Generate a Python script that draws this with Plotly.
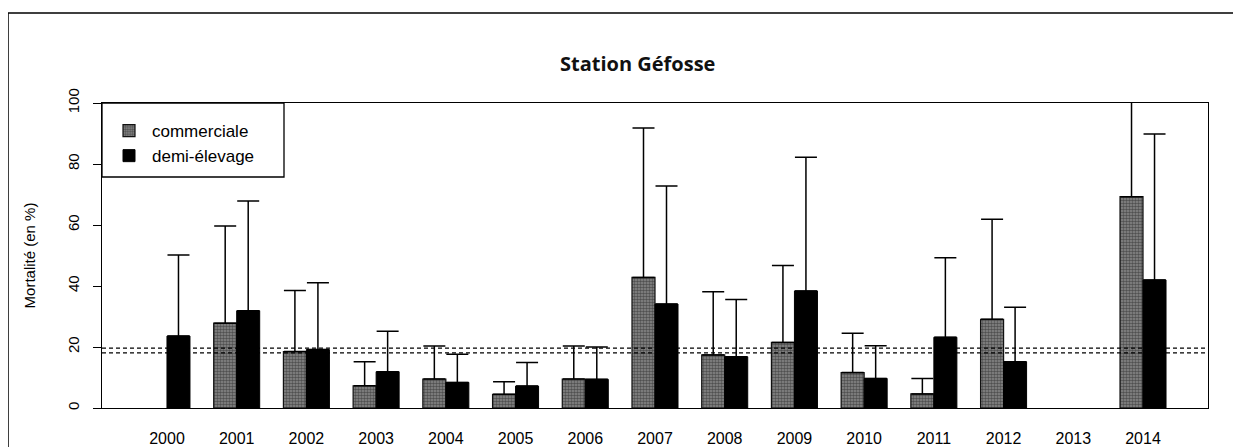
import plotly.graph_objects as go

years = [2000, 2001, 2002, 2003, 2004, 2005, 2006, 2007, 2008, 2009, 2010, 2011, 2012, 2013, 2014]
commerciale = [None, 27.8, 18.5, 7.3, 9.5, 4.5, 9.5, 42.8, 17.4, 21.5, 11.6, 4.6, 29.1, None, 69.3]
commerciale_sup = [None, 59.7, 38.5, 15.2, 20.3, 8.6, 20.3, 91.8, 38.1, 46.7, 24.5, 9.7, 61.9, None, 110.0]
demi_elevage = [23.6, 31.9, 19.2, 11.9, 8.4, 7.2, 9.4, 34.1, 16.8, 38.4, 9.7, 23.2, 15.2, None, 42.0]
demi_elevage_sup = [50.2, 67.9, 41.1, 25.2, 17.6, 14.9, 20.0, 72.8, 35.6, 82.2, 20.4, 49.3, 33.0, None, 89.8]
ref_lines = [19.6, 18.1]
y_ticks = [0, 20, 40, 60, 80, 100]


def err(vals, sup):
    return [None if v is None else s - v for v, s in zip(vals, sup)]


fig = go.Figure()
fig.add_trace(go.Bar(
    x=years, y=commerciale, name="commerciale",
    marker=dict(color="#7a7a7a",
                line=dict(color="#111111", width=1.2),
                pattern=dict(shape=".", fgcolor="#151515", bgcolor="#8a8a8a",
                             size=3, solidity=0.55, fillmode="overlay")),
    error_y=dict(type="data", symmetric=False, array=err(commerciale, commerciale_sup),
                 arrayminus=[0] * len(years), color="black", thickness=1.5, width=11),
))
fig.add_trace(go.Bar(
    x=years, y=demi_elevage, name="demi-élevage",
    marker=dict(color="black", line=dict(color="black", width=1)),
    error_y=dict(type="data", symmetric=False, array=err(demi_elevage, demi_elevage_sup),
                 arrayminus=[0] * len(years), color="black", thickness=1.5, width=11),
))

# page body adds an 8px offset; work in screen coordinates then shift
OFF = 8
W, H = 1241 - OFF, 447 - OFF
L, R, T, B = 102 - OFF, 1208 - OFF, 103 - OFF, 408 - OFF
pw, ph = R - L, B - T


def px(xs):
    return (xs - OFF - L) / pw


def py(ys):
    return (B - (ys - OFF)) / ph


shapes = []
for v in ref_lines:
    shapes.append(dict(type="line", xref="paper", yref="y", x0=0, x1=1, y0=v, y1=v,
                       line=dict(color="black", width=1.3, dash="4px,3px"), layer="above"))
# legend box
shapes.append(dict(type="rect", xref="paper", yref="paper", x0=0, x1=px(284), y0=py(177), y1=1,
                   line=dict(color="black", width=1.3), fillcolor="white", layer="above"))
# outer frame
shapes.append(dict(type="rect", xref="paper", yref="paper", x0=px(8), x1=px(1234), y0=py(470), y1=py(13),
                   line=dict(color="black", width=1.5)))

fig.update_layout(
    width=W, height=H,
    margin=dict(l=L, r=W - R, t=T, b=H - B, pad=0, autoexpand=False),
    paper_bgcolor="white", plot_bgcolor="white",
    barmode="group", bargap=0.34, bargroupgap=0,
    font=dict(family="Liberation Sans, Arial, sans-serif", color="black", size=15),
    showlegend=True,
    legend=dict(x=px(106), y=py(113), xanchor="left", yanchor="top",
                bgcolor="rgba(0,0,0,0)", borderwidth=0,
                font=dict(size=17), tracegroupgap=0, itemwidth=36),
    shapes=shapes,
    annotations=[dict(text="<b>Station Géfosse</b>", xref="paper", yref="paper",
                      x=px(637), y=py(63), xanchor="center", yanchor="middle",
                      showarrow=False,
                      font=dict(family="Open Sans, sans-serif", size=20, color="#111"),
                      )],
)

fig.update_xaxes(range=[1999.068, 2014.932], tickmode="array", tickvals=years,
                 ticktext=[str(y) for y in years], ticks="", showline=True, linecolor="black",
                 linewidth=1.3, mirror=True, showgrid=False, zeroline=False, automargin=False,
                 tickfont=dict(size=16), ticklabelstandoff=16)
fig.update_yaxes(range=[0, 100], tickmode="array", tickvals=y_ticks, ticks="outside",
                 ticklen=8, tickcolor="black", tickwidth=1.2, showline=True, linecolor="black",
                 linewidth=1.3, mirror=True, showgrid=False, zeroline=False, tickangle=-90,
                 tickfont=dict(size=15), ticklabelstandoff=8, automargin=False,
                 title=dict(text="Mortalité (en %)", font=dict(size=15), standoff=25))

fig.write_html("out.html")
